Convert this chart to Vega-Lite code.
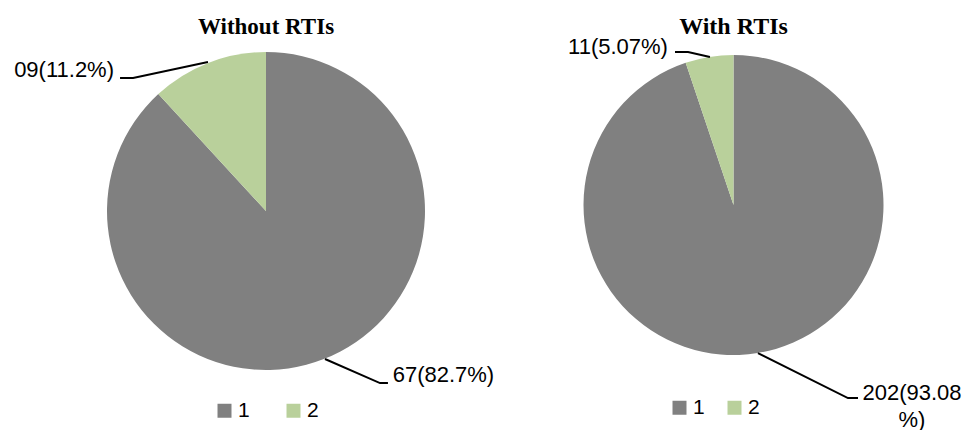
{
  "$schema": "https://vega.github.io/schema/vega-lite/v6.json",
  "padding": {"top": 15, "left": 0, "right": 0, "bottom": 0},
  "bounds": "flush",
  "spacing": 10,
  "background": "white",
  "config": {"view": {"stroke": null}},
  "resolve": {"scale": {"color": "independent", "x": "independent", "y": "independent"}, "legend": {"color": "independent"}},
  "hconcat": [
    {
      "width": 532,
      "height": 350,
      "title": {"text": "Without RTIs", "font": "Liberation Serif", "fontSize": 23, "fontWeight": "bold", "color": "black", "offset": -3, "anchor": "middle", "frame": "group"},
      "layer": [
        {
          "data": {"values": [{"group": "1", "count": 67}, {"group": "2", "count": 9}]},
          "mark": {"type": "arc", "outerRadius": 159},
          "encoding": {
            "theta": {"field": "count", "type": "quantitative", "stack": true},
            "order": {"field": "group", "type": "ordinal"},
            "color": {
              "field": "group", "type": "nominal",
              "scale": {"domain": ["1", "2"], "range": ["#808080", "#b9d09b"]},
              "legend": {"orient": "none", "legendX": 214, "legendY": 364, "direction": "horizontal", "title": null, "symbolType": "square", "symbolSize": 196, "symbolStrokeWidth": 0, "symbolOpacity": 1, "labelFontSize": 21, "labelFont": "Liberation Sans", "labelColor": "black", "labelOffset": 3, "columnPadding": 33, "padding": 0}
            }
          }
        },
        {
          "data": {"values": [
            {"slice": "2", "pt": 1, "x": -0.918, "y": 0.836},
            {"slice": "2", "pt": 2, "x": -0.836, "y": 0.836},
            {"slice": "2", "pt": 3, "x": -0.365, "y": 0.937},
            {"slice": "1", "pt": 1, "x": 0.371, "y": -0.931},
            {"slice": "1", "pt": 2, "x": 0.717, "y": -1.082},
            {"slice": "1", "pt": 3, "x": 0.767, "y": -1.082}
          ]},
          "mark": {"type": "line", "color": "black", "strokeWidth": 2},
          "encoding": {
            "x": {"field": "x", "type": "quantitative", "scale": {"domain": [-1.673, 1.673], "nice": false, "zero": false}, "axis": null},
            "y": {"field": "y", "type": "quantitative", "scale": {"domain": [-1.1006, 1.1006], "nice": false, "zero": false}, "axis": null},
            "detail": {"field": "slice"},
            "order": {"field": "pt", "type": "quantitative"}
          }
        },
        {
          "data": {"values": [
            {"label": "09(11.2%)", "x": -1.27, "y": 0.887},
            {"label": "67(82.7%)", "x": 1.116, "y": -1.031}
          ]},
          "mark": {"type": "text", "font": "Liberation Sans", "fontSize": 22, "align": "center", "baseline": "middle", "color": "black"},
          "encoding": {
            "x": {"field": "x", "type": "quantitative", "scale": {"domain": [-1.673, 1.673], "nice": false, "zero": false}, "axis": null},
            "y": {"field": "y", "type": "quantitative", "scale": {"domain": [-1.1006, 1.1006], "nice": false, "zero": false}, "axis": null},
            "text": {"field": "label"}
          }
        }
      ]
    },
    {
      "width": 383,
      "height": 338,
      "title": {"text": "With RTIs", "font": "Liberation Serif", "fontSize": 24, "fontWeight": "bold", "color": "black", "offset": -3, "anchor": "middle", "frame": "group"},
      "layer": [
        {
          "data": {"values": [{"group": "1", "count": 202}, {"group": "2", "count": 11}]},
          "mark": {"type": "arc", "outerRadius": 150},
          "encoding": {
            "theta": {"field": "count", "type": "quantitative", "stack": true},
            "order": {"field": "group", "type": "ordinal"},
            "color": {
              "field": "group", "type": "nominal",
              "scale": {"domain": ["1", "2"], "range": ["#808080", "#b9d09b"]},
              "legend": {"orient": "none", "legendX": 127, "legendY": 361, "direction": "horizontal", "title": null, "symbolType": "square", "symbolSize": 196, "symbolStrokeWidth": 0, "symbolOpacity": 1, "labelFontSize": 21, "labelFont": "Liberation Sans", "labelColor": "black", "labelOffset": 3, "columnPadding": 19, "padding": 0}
            }
          }
        },
        {
          "data": {"values": [
            {"slice": "2", "pt": 1, "x": -0.39, "y": 1.02},
            {"slice": "2", "pt": 2, "x": -0.303, "y": 1.02},
            {"slice": "2", "pt": 3, "x": -0.157, "y": 0.987},
            {"slice": "1", "pt": 1, "x": 0.163, "y": -0.987},
            {"slice": "1", "pt": 2, "x": 0.763, "y": -1.287},
            {"slice": "1", "pt": 3, "x": 0.83, "y": -1.287}
          ]},
          "mark": {"type": "line", "color": "black", "strokeWidth": 2},
          "encoding": {
            "x": {"field": "x", "type": "quantitative", "scale": {"domain": [-1.2767, 1.2767], "nice": false, "zero": false}, "axis": null},
            "y": {"field": "y", "type": "quantitative", "scale": {"domain": [-1.1267, 1.1267], "nice": false, "zero": false}, "axis": null},
            "detail": {"field": "slice"},
            "order": {"field": "pt", "type": "quantitative"}
          }
        },
        {
          "data": {"values": [
            {"label": "11(5.07%)", "x": -0.77, "y": 1.053},
            {"label": "202(93.08\n%)", "x": 1.19, "y": -1.253}
          ]},
          "mark": {"type": "text", "font": "Liberation Sans", "fontSize": 22, "align": "center", "baseline": "middle", "color": "black", "lineBreak": "\n", "lineHeight": 27},
          "encoding": {
            "x": {"field": "x", "type": "quantitative", "scale": {"domain": [-1.2767, 1.2767], "nice": false, "zero": false}, "axis": null},
            "y": {"field": "y", "type": "quantitative", "scale": {"domain": [-1.1267, 1.1267], "nice": false, "zero": false}, "axis": null},
            "text": {"field": "label"}
          }
        }
      ]
    }
  ]
}
